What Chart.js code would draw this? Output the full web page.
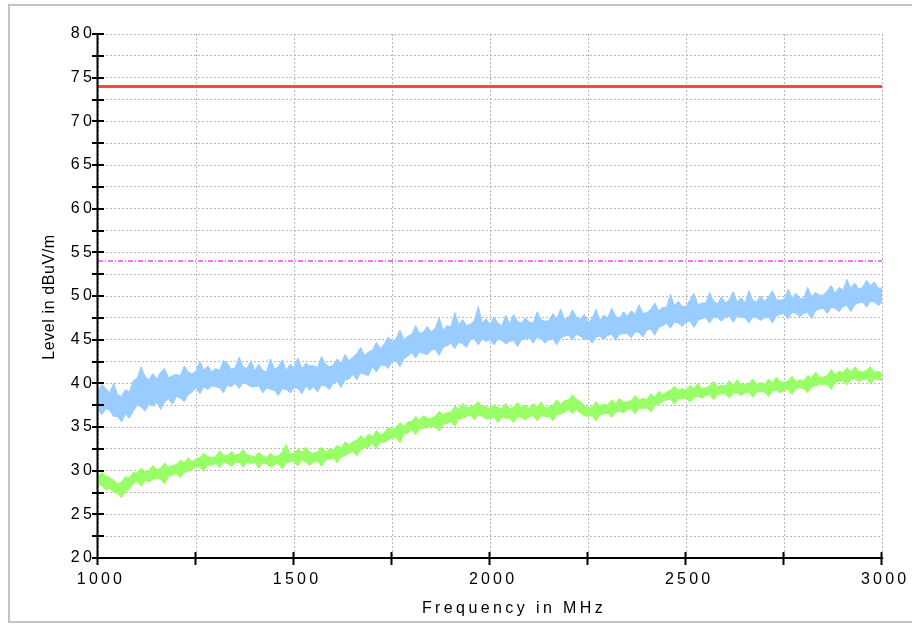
<!DOCTYPE html>
<html>
<head>
<meta charset="utf-8">
<script src="https://cdn.jsdelivr.net/npm/chart.js@4.4.1/dist/chart.umd.min.js"></script>
<style>
  html, body { margin: 0; padding: 0; background: #ffffff; }
  #wrap { width: 912px; height: 624px; }
</style>
</head>
<body>
<div id="wrap"><canvas id="chart" width="912" height="624"></canvas></div>
<script>
// Sweep grid of the receiver (MHz)
const sweepStartMHz = 1000;
const sweepStepMHz = 10;

// Peak detector trace: upper and lower edge of the noise band (dBuV/m), one value per sweep step
const peakHigh = [
  39.1, 39.9, 39.4, 38.9, 40.0,  38.7, 38.5, 39.3, 39.0, 40.3,
  40.6, 41.9, 40.8, 40.4, 41.1,  40.5, 41.3, 41.7, 40.6, 40.9,
  41.0, 40.9, 42.0, 41.3, 41.1,  41.4, 42.5, 41.5, 42.0, 41.3,
  41.7, 41.5, 42.6, 42.3, 41.6,  41.8, 43.0, 41.9, 41.7, 42.6,
  41.4, 42.2, 41.5, 41.3, 42.8,  41.6, 41.9, 42.7, 41.5, 42.2,
  41.8, 42.9, 41.7, 42.3, 42.0,  42.0, 41.8, 43.1, 42.2, 41.9,
  42.1, 42.8, 42.3, 43.3, 42.6,  43.0, 43.4, 44.1, 43.2, 43.6,
  43.8, 44.7, 44.0, 44.5, 45.3,  44.8, 45.1, 46.1, 45.0, 45.4,
  45.6, 46.6, 45.7, 45.9, 46.5,  45.9, 46.3, 47.5, 46.1, 46.6,
  46.5, 48.1, 46.7, 47.3, 46.6,  46.8, 47.2, 48.8, 46.9, 47.4,
  46.7, 47.6, 46.9, 46.6, 47.8,  46.8, 47.9, 47.1, 46.9, 47.5,
  47.0, 46.9, 48.2, 47.3, 47.1,  47.2, 48.0, 47.4, 48.5, 47.3,
  47.5, 48.4, 47.6, 47.3, 47.9,  47.0, 47.4, 48.5, 47.2, 47.8,
  47.5, 48.6, 47.7, 47.4, 48.2,  47.7, 48.3, 47.9, 49.0, 48.0,
  48.1, 48.5, 49.2, 48.3, 48.7,  48.7, 50.2, 48.9, 49.4, 48.8,
  48.8, 49.6, 50.3, 49.0, 49.2,  49.2, 50.4, 49.4, 49.1, 49.9,
  49.2, 49.6, 50.5, 49.3, 49.8,  49.2, 50.6, 49.5, 49.3, 50.0,
  49.4, 49.9, 50.6, 49.6, 49.5,  49.6, 50.8, 49.8, 50.3, 49.7,
  49.7, 51.0, 49.9, 50.4, 50.1,  50.1, 50.6, 51.2, 50.3, 51.0,
  50.7, 51.9, 50.9, 51.5, 50.8,  51.0, 51.8, 51.2, 51.6, 50.9,
  50.9
];
const peakLow = [
  37.0, 36.4, 37.1, 36.9, 36.2,  36.2, 35.6, 36.5, 36.0, 36.8,
  37.5, 37.3, 36.8, 37.6, 37.4,  37.8, 37.0, 37.9, 38.2, 37.6,
  38.5, 38.3, 37.9, 38.7, 39.0,  39.5, 38.8, 39.6, 39.3, 39.7,
  39.6, 39.5, 38.9, 39.8, 39.6,  40.0, 39.4, 40.1, 39.9, 39.6,
  39.6, 39.7, 38.9, 39.5, 39.3,  39.2, 38.6, 39.4, 39.3, 38.9,
  39.5, 39.4, 38.8, 39.7, 39.2,  39.6, 39.0, 39.8, 39.7, 39.3,
  40.0, 40.2, 39.5, 40.4, 40.5,  41.0, 40.4, 41.2, 41.0, 40.9,
  41.9, 41.3, 42.0, 42.1, 41.7,  42.5, 42.6, 41.9, 42.8, 43.1,
  43.5, 42.9, 43.6, 43.4, 43.3,  43.8, 43.9, 43.2, 44.1, 44.3,
  44.6, 44.0, 44.7, 44.5, 44.1,  45.0, 45.1, 44.4, 45.1, 44.8,
  45.0, 44.4, 45.1, 44.9, 44.5,  44.8, 44.9, 44.2, 45.0, 45.1,
  45.2, 44.6, 45.3, 45.1, 44.6,  45.0, 45.1, 44.4, 45.2, 45.4,
  45.5, 45.0, 45.6, 45.4, 45.0,  45.2, 44.6, 45.3, 45.4, 45.0,
  45.5, 45.6, 44.9, 45.6, 45.7,  45.7, 45.2, 45.9, 45.8, 45.3,
  46.1, 46.2, 45.5, 46.4, 46.6,  46.9, 46.3, 47.0, 46.9, 46.5,
  47.0, 47.1, 46.4, 47.2, 47.4,  47.5, 46.9, 47.6, 47.5, 47.1,
  47.6, 47.7, 47.0, 47.7, 47.6,  47.5, 46.9, 47.6, 47.5, 47.2,
  47.5, 47.6, 46.9, 47.7, 47.9,  48.0, 47.4, 48.1, 48.0, 47.6,
  48.0, 48.1, 47.4, 48.3, 48.5,  48.6, 48.0, 48.7, 48.6, 48.2,
  48.8, 48.9, 48.2, 49.0, 49.2,  49.3, 48.7, 49.4, 49.3, 48.9,
  49.3
];

// Average detector trace: upper and lower edge of the band (dBuV/m)
const avgHigh = [
  29.3, 29.8, 29.4, 29.2, 28.9,  28.5, 28.7, 29.3, 29.2, 29.8,
  29.7, 30.3, 29.9, 30.0, 30.6,  30.1, 30.3, 30.9, 30.4, 30.6,
  30.7, 31.2, 30.9, 31.5, 31.0,  31.4, 31.5, 32.0, 31.6, 31.5,
  31.6, 32.3, 31.8, 31.7, 32.2,  31.8, 31.9, 32.4, 31.8, 31.7,
  31.6, 32.1, 31.7, 31.5, 32.0,  31.6, 31.7, 32.2, 33.0, 31.9,
  32.0, 32.5, 32.1, 32.7, 32.1,  32.0, 32.2, 32.7, 32.1, 32.5,
  32.4, 32.9, 32.6, 33.3, 33.0,  33.3, 33.5, 34.0, 33.6, 34.2,
  33.9, 34.6, 34.1, 34.3, 34.9,  34.7, 35.0, 35.5, 35.1, 35.6,
  35.6, 36.2, 35.8, 36.3, 36.0,  36.0, 36.2, 36.8, 36.4, 36.7,
  36.7, 37.4, 37.0, 37.7, 37.2,  37.3, 37.5, 37.9, 37.3, 37.4,
  37.0, 37.6, 37.2, 37.1, 37.7,  37.1, 37.3, 37.8, 37.2, 37.5,
  37.1, 37.7, 37.3, 37.9, 37.2,  37.3, 37.5, 38.1, 37.6, 38.0,
  38.1, 38.7, 38.2, 37.9, 37.5,  37.1, 37.3, 37.9, 37.4, 37.6,
  37.5, 38.1, 37.7, 38.3, 37.8,  37.9, 38.0, 38.6, 38.1, 38.3,
  38.1, 38.8, 38.4, 39.1, 38.7,  39.0, 39.2, 39.7, 39.2, 39.4,
  39.2, 39.8, 39.4, 40.0, 39.4,  39.5, 39.7, 40.2, 39.6, 39.8,
  39.7, 40.3, 39.8, 40.4, 39.9,  39.8, 40.0, 40.5, 39.9, 40.1,
  39.9, 40.5, 40.1, 40.7, 40.2,  40.1, 40.3, 40.8, 40.2, 40.4,
  40.3, 40.9, 40.6, 41.3, 40.7,  40.7, 40.9, 41.6, 41.0, 41.4,
  41.2, 41.8, 41.3, 41.9, 41.4,  41.3, 41.5, 41.9, 41.3, 41.4,
  41.1
];
const avgLow = [
  28.4, 28.3, 27.8, 28.0, 27.5,  27.4, 26.9, 27.6, 27.9, 28.5,
  28.8, 28.2, 28.9, 28.7, 29.0,  29.1, 29.0, 28.5, 29.3, 29.5,
  29.7, 29.2, 29.8, 29.9, 30.1,  30.5, 30.4, 29.9, 30.7, 30.6,
  30.9, 30.3, 31.0, 30.8, 30.5,  30.9, 31.0, 30.4, 31.0, 30.8,
  30.9, 30.3, 30.9, 30.8, 30.4,  30.7, 30.8, 30.2, 30.9, 31.0,
  31.1, 30.5, 31.2, 31.0, 30.6,  31.0, 31.1, 30.5, 31.2, 31.3,
  31.4, 30.9, 31.6, 31.7, 32.0,  32.2, 31.7, 32.4, 32.6, 32.7,
  33.1, 32.5, 33.3, 33.2, 33.5,  33.7, 33.8, 33.2, 34.2, 34.3,
  34.7, 34.1, 34.8, 34.8, 35.0,  35.0, 35.1, 34.5, 35.3, 35.4,
  35.6, 35.1, 35.9, 36.0, 36.2,  36.4, 35.8, 36.4, 36.2, 35.9,
  36.0, 36.1, 35.5, 36.1, 36.0,  36.0, 35.5, 36.2, 36.1, 35.8,
  36.2, 36.3, 35.7, 36.3, 36.2,  36.2, 35.7, 36.4, 36.5, 36.7,
  37.0, 36.5, 37.0, 36.6, 36.3,  36.2, 36.3, 35.7, 36.4, 36.5,
  36.6, 36.1, 36.7, 36.8, 36.6,  37.0, 37.1, 36.5, 37.2, 37.1,
  37.2, 36.7, 37.5, 37.6, 37.9,  38.1, 38.2, 37.6, 38.2, 38.2,
  38.3, 37.8, 38.4, 38.5, 38.3,  38.6, 38.7, 38.1, 38.7, 38.8,
  38.8, 38.3, 38.9, 38.9, 38.6,  38.9, 39.0, 38.4, 39.0, 39.1,
  39.0, 38.5, 39.1, 39.2, 38.9,  39.2, 39.3, 38.7, 39.4, 39.5,
  39.4, 38.9, 39.6, 39.7, 39.9,  39.8, 39.9, 39.3, 40.1, 40.2,
  40.3, 39.8, 40.4, 40.5, 40.2,  40.4, 40.5, 39.9, 40.5, 40.4,
  40.3
];

// Limit lines (dBuV/m) across the sweep
const limitFreqs = [1000, 3000];
const limitPeak = [74, 74];
const limitAverage = [54, 54];

// Axis ticks
const freqTicks = [1000, 1250, 1500, 1750, 2000, 2250, 2500, 2750, 3000];
const freqLabelled = [1000, 1500, 2000, 2500, 3000];
const levelTicks = [20, 22.5, 25, 27.5, 30, 32.5, 35, 37.5, 40, 42.5, 45, 47.5, 50, 52.5, 55, 57.5, 60, 62.5, 65, 67.5, 70, 72.5, 75, 77.5, 80];
const levelLabelled = [20, 25, 30, 35, 40, 45, 50, 55, 60, 65, 70, 75, 80];

const xTitle = 'Frequency in MHz';
const yTitle = 'Level in dBuV/m';

const FONT = '"Liberation Sans", Arial, sans-serif';

const sweep = (vals) => vals.map((v, i) => ({ x: sweepStartMHz + i * sweepStepMHz, y: v }));
const pairs = (xs, ys) => xs.map((x, i) => ({ x, y: ys[i] }));

const BLUE = '#99CCFF';
const GREEN = '#99FF66';

// Outer frame, axis lines, crossing tick marks and axis titles
const decorations = {
  id: 'decorations',
  beforeDraw(chart) {
    const ctx = chart.ctx;
    ctx.save();
    ctx.strokeStyle = '#c4c4c4';
    ctx.lineWidth = 2;
    ctx.strokeRect(9, 5, 930, 617);
    ctx.restore();
    ctx.letterSpacing = '3.2px';
  },
  afterDatasetsDraw(chart) {
    const ctx = chart.ctx;
    const { left, right, top, bottom } = chart.chartArea;
    const xs = chart.scales.x, ys = chart.scales.y;
    ctx.save();
    ctx.strokeStyle = '#000000';
    ctx.lineWidth = 2;
    ctx.beginPath();
    ctx.moveTo(left - 0.5, top - 1);
    ctx.lineTo(left - 0.5, bottom + 1);
    ctx.moveTo(left - 1, bottom);
    ctx.lineTo(right + 1, bottom);
    levelTicks.forEach(v => {
      const y = Math.round(ys.getPixelForValue(v));
      ctx.moveTo(left - 6, y);
      ctx.lineTo(left + 6, y);
    });
    freqTicks.forEach(v => {
      const x = Math.round(xs.getPixelForValue(v)) - 0.5;
      ctx.moveTo(x, bottom - 6);
      ctx.lineTo(x, bottom + 7);
    });
    ctx.stroke();
    ctx.restore();
  },
  afterDraw(chart) {
    const ctx = chart.ctx;
    ctx.save();
    ctx.fillStyle = '#000000';
    ctx.font = '16px ' + FONT;
    ctx.textAlign = 'center';
    ctx.textBaseline = 'middle';
    ctx.letterSpacing = '3.4px';
    ctx.fillText(xTitle, 514, 609);
    ctx.translate(50, 297);
    ctx.rotate(-Math.PI / 2);
    ctx.letterSpacing = '0.6px';
    ctx.fillText(yTitle, 0, 0);
    ctx.restore();
  }
};

new Chart(document.getElementById('chart'), {
  type: 'line',
  data: {
    datasets: [
      { data: sweep(peakLow), borderColor: BLUE, borderWidth: 1, backgroundColor: BLUE, fill: false, pointRadius: 0, tension: 0 },
      { data: sweep(peakHigh), borderColor: BLUE, borderWidth: 1, backgroundColor: BLUE, fill: '-1', pointRadius: 0, tension: 0 },
      { data: sweep(avgLow), borderColor: GREEN, borderWidth: 1, backgroundColor: GREEN, fill: false, pointRadius: 0, tension: 0 },
      { data: sweep(avgHigh), borderColor: GREEN, borderWidth: 1, backgroundColor: GREEN, fill: '-1', pointRadius: 0, tension: 0 },
      { data: pairs(limitFreqs, limitAverage), borderColor: '#FF44FF', borderWidth: 1.5, borderDash: [5, 2, 1, 2], fill: false, pointRadius: 0 },
      { data: pairs(limitFreqs, limitPeak), borderColor: '#FF4646', borderWidth: 3, fill: false, pointRadius: 0 }
    ]
  },
  options: {
    responsive: false,
    animation: false,
    events: [],
    layout: { padding: { left: 0, top: 34, right: 29, bottom: 0 } },
    plugins: { legend: { display: false }, tooltip: { enabled: false } },
    scales: {
      x: {
        type: 'linear',
        min: 1000, max: 3000,
        afterFit: s => { s.height = 66; },
        afterBuildTicks: s => { s.ticks = freqTicks.map(v => ({ value: v })); },
        ticks: {
          color: '#000000',
          font: { family: FONT, size: 16 },
          padding: 12,
          labelOffset: 3,
          maxRotation: 0,
          autoSkip: false,
          callback: v => (freqLabelled.includes(v) ? String(v) : '')
        },
        grid: { color: '#b8b8b8', lineWidth: 1, drawTicks: false },
        border: { display: false, dash: [2, 2] }
      },
      y: {
        type: 'linear',
        min: 20, max: 80,
        afterFit: s => { s.width = 98; },
        afterBuildTicks: s => { s.ticks = levelTicks.map(v => ({ value: v })); },
        ticks: {
          color: '#000000',
          font: { family: FONT, size: 16 },
          padding: 3,
          autoSkip: false,
          callback: v => (levelLabelled.includes(v) ? String(v) : '')
        },
        grid: { color: '#b8b8b8', lineWidth: 1, drawTicks: false },
        border: { display: false, dash: [2, 2] }
      }
    }
  },
  plugins: [decorations]
});
</script>
</body>
</html>
